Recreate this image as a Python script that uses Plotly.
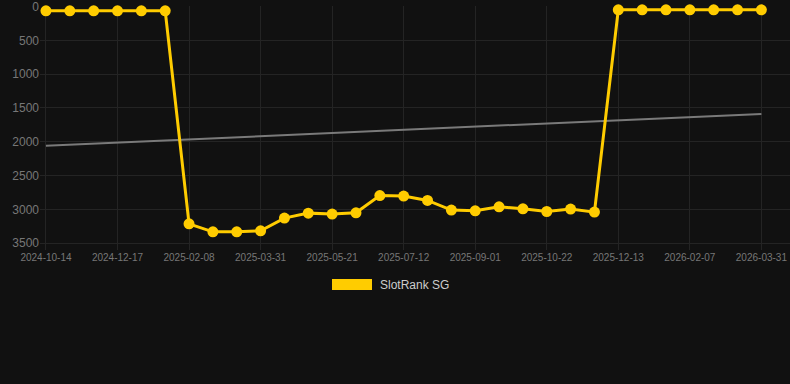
import plotly.graph_objects as go

dates = [
    "2024-10-14", "2024-11-04", "2024-11-25", "2024-12-17", "2025-01-04", "2025-01-22",
    "2025-02-08", "2025-02-25", "2025-03-14", "2025-03-31", "2025-04-17", "2025-05-04",
    "2025-05-21", "2025-06-07", "2025-06-24", "2025-07-12", "2025-07-29", "2025-08-15",
    "2025-09-01", "2025-09-18", "2025-10-05", "2025-10-22", "2025-11-08", "2025-11-25",
    "2025-12-13", "2025-12-31", "2026-01-19", "2026-02-07", "2026-02-24", "2026-03-14",
    "2026-03-31",
]
rank_values = [
    65, 65, 65, 65, 65, 65,
    3213, 3331, 3331, 3316, 3128, 3055,
    3069, 3050, 2795, 2803, 2868, 3010,
    3020, 2962, 2991, 3031, 2995, 3040,
    50, 50, 50, 50, 50, 50, 50,
]
tick_labels = [
    "2024-10-14", "2024-12-17", "2025-02-08", "2025-03-31", "2025-05-21", "2025-07-12",
    "2025-09-01", "2025-10-22", "2025-12-13", "2026-02-07", "2026-03-31",
]
trend_x = ["2024-10-14", "2026-03-31"]
trend_y = [2060, 1588]
y_ticks = [0, 500, 1000, 1500, 2000, 2500, 3000, 3500]
series_name = "SlotRank SG"

YELLOW = "#FFCC00"

fig = go.Figure()
fig.add_trace(go.Scatter(
    x=trend_x, y=trend_y, mode="lines",
    line=dict(color="#7a7a7a", width=2),
    showlegend=False, hoverinfo="skip",
))
fig.add_trace(go.Scatter(
    x=dates, y=rank_values, mode="lines+markers", name=series_name,
    line=dict(color=YELLOW, width=3),
    marker=dict(color=YELLOW, size=11),
    cliponaxis=False, showlegend=False,
))

fig.update_layout(
    width=790, height=384,
    margin=dict(l=40, r=0, t=6, b=134),
    paper_bgcolor="#111111", plot_bgcolor="#111111",
    font=dict(family="Arial, Liberation Sans, sans-serif", color="#777777"),
    showlegend=False,
    xaxis=dict(
        type="category", categoryorder="array", categoryarray=dates,
        range=[-0.25, 31.2],
        tickvals=tick_labels, ticktext=tick_labels,
        tickfont=dict(size=10, color="#777777"),
        showgrid=True, gridcolor="#242424", gridwidth=1,
        zeroline=False, showline=False, ticks="", automargin=False,
        ticklabeloverflow="allow",
    ),
    yaxis=dict(
        range=[3600, -7],
        tickvals=y_ticks, ticktext=[str(v) for v in y_ticks],
        tickfont=dict(size=12, color="#777777"),
        showgrid=True, gridcolor="#242424", gridwidth=1,
        zeroline=False, showline=False, ticks="", automargin=False,
        ticklabeloverflow="allow",
    ),
    shapes=[dict(
        type="rect", xref="paper", yref="paper",
        x0=(332 - 40) / 750, x1=(372 - 40) / 750,
        y0=(250 - 279) / 244, y1=(250 - 290) / 244,
        fillcolor=YELLOW, line=dict(width=0),
    )],
    annotations=[dict(
        xref="paper", yref="paper",
        x=(378 - 40) / 750, y=(250 - 285) / 244,
        xanchor="left", yanchor="middle",
        text=series_name, showarrow=False,
        font=dict(size=12, color="#cccccc"),
    )],
)

fig.write_html(
    "out.html",
    config={"displayModeBar": False},
    post_script="document.body.style.margin='0';document.body.style.background='#111111';",
)
